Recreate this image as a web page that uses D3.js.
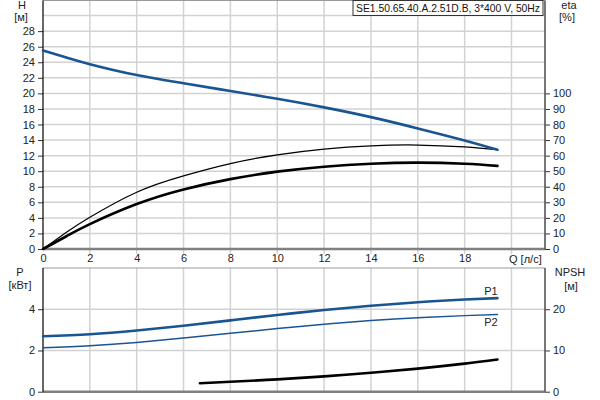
<!DOCTYPE html>
<html><head><meta charset="utf-8">
<script src="https://cdn.jsdelivr.net/npm/d3@7/dist/d3.min.js"></script>
<style>body{margin:0;background:#fff}svg{display:block}text{font-family:"Liberation Sans",Arial,sans-serif}</style>
</head><body><svg id="c" width="600" height="400"></svg>
<script>
// Data
const q = [0, 1, 2, 4, 6, 8, 10, 12, 14, 16, 18, 19.4];
const head = [25.5, 24.6, 23.75, 22.35, 21.3, 20.3, 19.3, 18.2, 16.95, 15.5, 13.95, 12.75];
const eta1 = [0, 10.7, 20.4, 36.5, 47.0, 54.9, 60.5, 64.2, 66.3, 66.8, 65.6, 63.8];
const eta2 = [0, 8.2, 16.0, 28.9, 38.3, 44.9, 49.7, 52.9, 54.8, 55.5, 54.8, 53.4];
const qP = [0, 2, 4, 6, 8, 10, 12, 14, 16, 18, 19.4];
const p1 = [2.69, 2.79, 2.97, 3.20, 3.46, 3.72, 3.96, 4.17, 4.34, 4.47, 4.54];
const p2 = [2.13, 2.23, 2.39, 2.60, 2.83, 3.06, 3.27, 3.45, 3.59, 3.69, 3.75];
const qN = [6.7, 8, 10, 12, 14, 16, 18, 19.4];
const npsh = [2.05, 2.4, 3.0, 3.72, 4.6, 5.6, 6.8, 7.8];
const qTicks = [0, 2, 4, 6, 8, 10, 12, 14, 16, 18];
const qGrid = [2, 4, 6, 8, 10, 12, 14, 16, 18, 20];
const hTicks = [0, 2, 4, 6, 8, 10, 12, 14, 16, 18, 20, 22, 24, 26, 28];
const hGrid = [2, 4, 6, 8, 10, 12, 14, 16, 18, 20, 22, 24, 26, 28, 30];
const etaTicks = [0, 10, 20, 30, 40, 50, 60, 70, 80, 90, 100];
const pTicks = [0, 2, 4];
const npshTicks = [0, 10, 20];
const title = "SE1.50.65.40.A.2.51D.B, 3*400 V, 50Hz";

const svg = d3.select("#c");
const L = 43, R = 545;
const x = d3.scaleLinear().domain([0, 21.43]).range([L, R]);
const yH = d3.scaleLinear().domain([0, 32]).range([249, 0]);
const yE = d3.scaleLinear().domain([0, 160]).range([249, 0]);
const yP = d3.scaleLinear().domain([0, 6]).range([391.7, 268]);
const yN = d3.scaleLinear().domain([0, 30]).range([391.7, 268]);
const blue = "#1a5592", grid = "#d2d2d2", txt = "#222";

function gridlines(yScale, vals, y0, y1) {
  const g = svg.append("g");
  g.selectAll(".v").data(qGrid).join("line")
    .attr("x1", d => x(d)).attr("x2", d => x(d)).attr("y1", y0).attr("y2", y1)
    .attr("stroke", grid).attr("stroke-width", 1.5);
  g.selectAll(".h").data(vals).join("line")
    .attr("x1", L).attr("x2", R).attr("y1", d => yScale(d)).attr("y2", d => yScale(d))
    .attr("stroke", grid).attr("stroke-width", 1.5);
}
gridlines(yH, hGrid, 0, 249);
gridlines(yP, [2, 4], 268, 391.7);

svg.append("g").selectAll("line").data(qGrid).join("line")
  .attr("x1", d => x(d)).attr("x2", d => x(d)).attr("y1", 249).attr("y2", 254)
  .attr("stroke", grid).attr("stroke-width", 1.5);

function axisStyle(g) {
  g.select(".domain").remove();
  g.selectAll("text").attr("fill", txt).style("font-size", "11px");
  g.selectAll("line").attr("stroke", "#333");
}
svg.append("g").attr("transform", "translate(0,249)")
  .call(d3.axisBottom(x).tickValues(qTicks).tickSize(0).tickPadding(5).tickFormat(d3.format("d")))
  .call(axisStyle);
svg.append("g").attr("transform", `translate(${L},0)`)
  .call(d3.axisLeft(yH).tickValues(hTicks).tickSize(5).tickPadding(3).tickFormat(d3.format("d")))
  .call(axisStyle);
svg.append("g").attr("transform", `translate(${R},0)`)
  .call(d3.axisRight(yE).tickValues(etaTicks).tickSize(5).tickPadding(3).tickFormat(d3.format("d")))
  .call(axisStyle);
svg.append("g").attr("transform", `translate(${L},0)`)
  .call(d3.axisLeft(yP).tickValues(pTicks).tickSize(5).tickPadding(3).tickFormat(d3.format("d")))
  .call(axisStyle);
svg.append("g").attr("transform", `translate(${R},0)`)
  .call(d3.axisRight(yN).tickValues(npshTicks).tickSize(5).tickPadding(3).tickFormat(d3.format("d")))
  .call(axisStyle);

function frame(y0, y1) {
  svg.append("line").attr("x1", L).attr("x2", R).attr("y1", y0).attr("y2", y0).attr("stroke", "#999").attr("stroke-width", 1);
  svg.append("line").attr("x1", L).attr("x2", R).attr("y1", y1).attr("y2", y1).attr("stroke", "#808080").attr("stroke-width", 2.5);
  svg.append("line").attr("x1", L).attr("x2", L).attr("y1", y0).attr("y2", y1).attr("stroke", "#000").attr("stroke-width", 1.2);
  svg.append("line").attr("x1", R).attr("x2", R).attr("y1", y0).attr("y2", y1).attr("stroke", "#555").attr("stroke-width", 1.6);
}
frame(0.5, 249);
frame(268, 391.7);

function curve(xs, ys, yScale, color, w) {
  const pts = xs.map((d, i) => [d, ys[i]]);
  svg.append("path").datum(pts)
    .attr("d", d3.line().x(d => x(d[0])).y(d => yScale(d[1])).curve(d3.curveNatural))
    .attr("fill", "none").attr("stroke", color).attr("stroke-width", w).attr("stroke-linecap", "round");
}
curve(q, eta1, yE, "#000", 1.2);
curve(q, eta2, yE, "#000", 2.6);
curve(q, head, yH, blue, 2.6);
curve(qP, p1, yP, blue, 2.6);
curve(qP, p2, yP, blue, 1.5);
curve(qN, npsh, yN, "#000", 2.6);

function label(t, xx, yy, anchor) {
  svg.append("text").attr("x", xx).attr("y", yy).attr("text-anchor", anchor || "middle")
    .attr("fill", txt).style("font-size", "11px").text(t);
}
label("H", 22, 9); label("[м]", 21, 21);
label("eta", 569, 9); label("[%]", 567, 21);
label("P", 20, 276); label("[кВт]", 20, 289);
label("NPSH", 570, 276); label("[м]", 571, 290);
label("Q [л/с]", 509, 263, "start");
label("P1", 491, 295); label("P2", 491, 326);

// title box
const tb = svg.append("g");
const tt = tb.append("text").attr("y", 12).attr("text-anchor", "start")
  .attr("fill", "#111").style("font-size", "11px").text(title);
const tw = tt.node().getComputedTextLength();
const boxW = 190;
tt.attr("x", 353 + 3).attr("textLength", boxW - 6).attr("lengthAdjust", "spacingAndGlyphs");
tb.insert("rect", "text").attr("x", 353).attr("y", 0.5).attr("width", boxW).attr("height", 15)
  .attr("fill", "#fff").attr("stroke", "#333").attr("stroke-width", 1);
</script></body></html>
